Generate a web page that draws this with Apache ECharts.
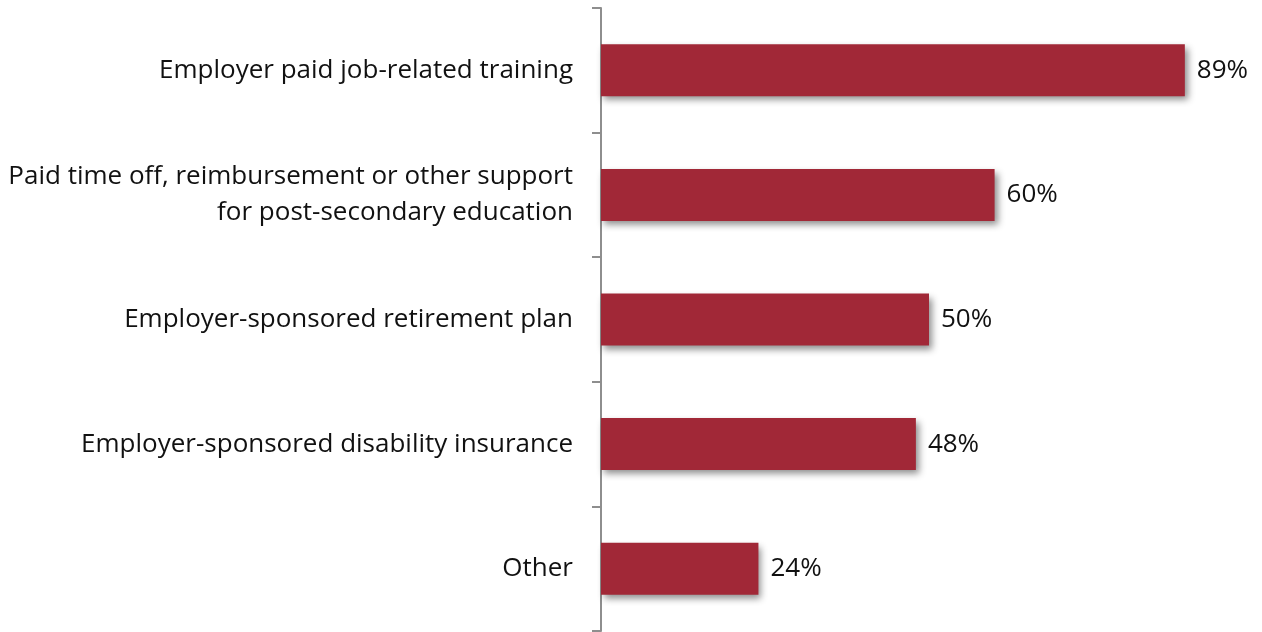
<!DOCTYPE html>
<html>
<head>
<meta charset="utf-8">
<script src="https://cdn.jsdelivr.net/npm/echarts@6/dist/echarts.min.js"></script>
<style>
  html, body { margin: 0; padding: 0; background: #fff; }
  #chart { width: 1262px; height: 632px; }
</style>
</head>
<body>
<div id="chart"></div>
<script>
const categories = [
  'Employer paid job-related training',
  'Paid time off, reimbursement or other support\nfor post-secondary education',
  'Employer-sponsored retirement plan',
  'Employer-sponsored disability insurance',
  'Other'
]
const values = [89, 60, 50, 48, 24]

const chart = echarts.init(document.getElementById('chart'))
const font = 'Open Sans'

chart.setOption({
  animation: false,
  grid: { left: 601, right: 5, top: 8, bottom: 1, containLabel: false },
  xAxis: {
    type: 'value',
    min: 0,
    max: 100,
    show: false
  },
  yAxis: {
    type: 'category',
    data: categories,
    inverse: true,
    axisLine: { show: true, lineStyle: { color: '#8e8e8e', width: 2 } },
    axisTick: { show: true, length: 9, lineStyle: { color: '#8e8e8e', width: 2 } },
    axisLabel: {
      margin: 28,
      fontFamily: font,
      fontSize: 26,
      color: '#111',
      align: 'right',
      lineHeight: 36,
      padding: [6, 0, 0, 0]
    }
  },
  series: [{
    type: 'bar',
    data: values,
    barWidth: 52,
    itemStyle: {
      color: '#a12837',
      shadowColor: 'rgba(0,0,0,0.45)',
      shadowBlur: 7,
      shadowOffsetX: 3,
      shadowOffsetY: 4
    },
    label: {
      show: true,
      position: 'right',
      distance: 12,
      formatter: '{c}%',
      fontFamily: font,
      fontSize: 26,
      color: '#111',
      padding: [6, 0, 0, 0]
    }
  }]
})
</script>
</body>
</html>
